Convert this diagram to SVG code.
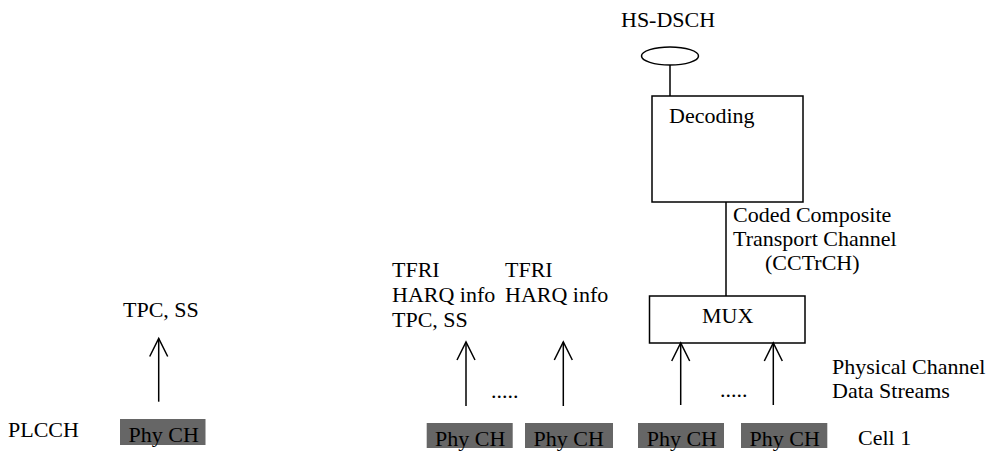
<svg xmlns="http://www.w3.org/2000/svg" width="992" height="451" viewBox="0 0 992 451">
<style>
text{font-family:"Liberation Serif","Times New Roman",Times,serif;font-size:22px;fill:#000}
.box{fill:#fff;stroke:#000;stroke-width:1.5}
.phy{fill:#666;stroke:none}
.ln{stroke:#000;stroke-width:1.5;fill:none}
</style>
<defs>
<path id="head" d="M-9,18 L0,0 L9,18" fill="none" stroke="#000" stroke-width="1.5"/>
</defs>
<rect width="992" height="451" fill="#fff"/>
<g id="hs-dsch">
<text x="621" y="27">HS-DSCH</text>
<ellipse cx="670" cy="56" rx="28.5" ry="9" class="box"/>
</g>
<g id="decoding">
<rect x="652" y="96" width="151" height="106" class="box"/>
<text x="669" y="123">Decoding</text>
</g>
<g id="cctrch-label">
<text x="733" y="221.5">Coded Composite</text>
<text x="733" y="245.5">Transport Channel</text>
<text x="765" y="269.5">(CCTrCH)</text>
</g>
<g id="mux">
<rect x="649.5" y="296" width="155.5" height="47" class="box"/>
<text x="702" y="323">MUX</text>
</g>
<g id="plcch-label"><text x="8" y="437">PLCCH</text></g>
<g id="tpc-label"><text x="123" y="317">TPC, SS</text></g>
<g id="info1">
<text x="392" y="277">TFRI</text>
<text x="392" y="301.7">HARQ info</text>
<text x="392" y="326.5">TPC, SS</text>
</g>
<g id="info2">
<text x="505" y="277">TFRI</text>
<text x="505" y="301.7">HARQ info</text>
</g>
<g id="psd-label">
<text x="832" y="374">Physical Channel</text>
<text x="832" y="398">Data Streams</text>
</g>
<g id="cell1-label"><text x="858" y="445">Cell 1</text></g>
<g id="dots1"><text x="491" y="398">.....</text></g>
<g id="dots2"><text x="720" y="397">.....</text></g>
<g id="phy0"><rect x="120" y="419" width="85.5" height="26" class="phy"/><text x="128.5" y="442">Phy CH</text></g>
<g id="phy1"><rect x="426.7" y="423" width="86" height="25" class="phy"/><text x="435" y="445.5">Phy CH</text></g>
<g id="phy2"><rect x="525" y="423" width="88" height="25" class="phy"/><text x="533.5" y="445.5">Phy CH</text></g>
<g id="phy3"><rect x="638" y="423" width="86" height="25" class="phy"/><text x="646.7" y="445.5">Phy CH</text></g>
<g id="phy4"><rect x="741" y="423" width="86.3" height="25" class="phy"/><text x="749.5" y="445.5">Phy CH</text></g>
<g id="connectors">
<line x1="670" y1="65" x2="670" y2="96" class="ln"/>
<line x1="726" y1="202" x2="726" y2="296" class="ln"/>
<line x1="158.7" y1="401.7" x2="158.7" y2="338.5" class="ln"/>
<use href="#head" x="158.7" y="338.5"/>
<line x1="466" y1="406" x2="466" y2="342" class="ln"/>
<use href="#head" x="466" y="342"/>
<line x1="563.3" y1="406" x2="563.3" y2="342" class="ln"/>
<use href="#head" x="563.3" y="342"/>
<line x1="680.7" y1="405" x2="680.7" y2="343" class="ln"/>
<use href="#head" x="680.7" y="343"/>
<line x1="773.3" y1="405" x2="773.3" y2="343" class="ln"/>
<use href="#head" x="773.3" y="343"/>
</g>
</svg>
